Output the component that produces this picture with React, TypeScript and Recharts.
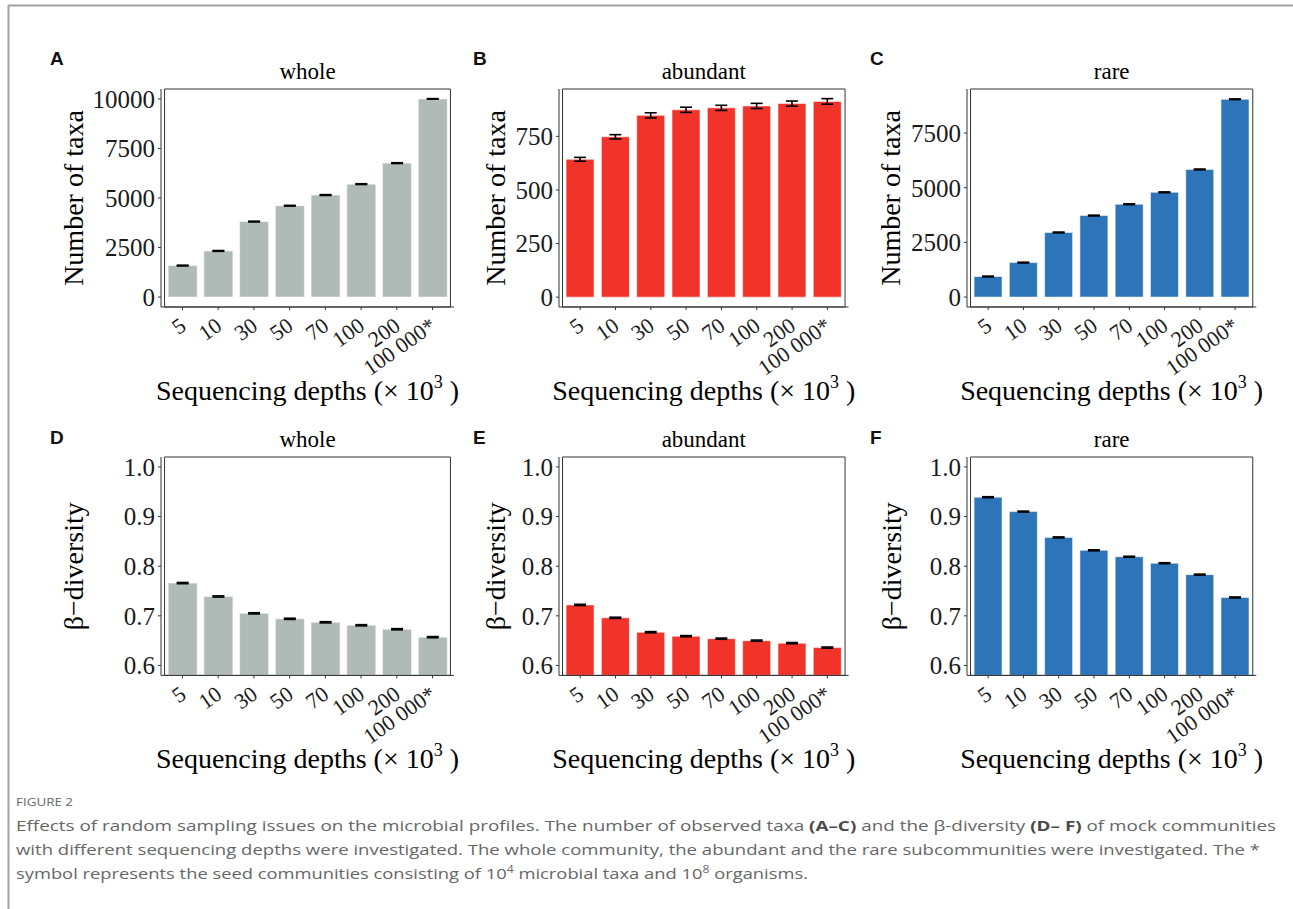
import React from 'react';
import { BarChart, Bar, XAxis, YAxis, ErrorBar, ReferenceArea } from 'recharts';

// ---------- data ----------
const depthLabels = ['5', '10', '30', '50', '70', '100', '200', '100 000*'];

const taxaWhole = [1590, 2330, 3810, 4610, 5150, 5700, 6760, 10000];
const taxaWholeErr = [20, 20, 20, 20, 20, 20, 20, 15];
const taxaAbundant = [643, 748, 848, 874, 883, 892, 903, 913];
const taxaAbundantErr = [9, 10, 12, 12, 12, 12, 12, 13];
const taxaRare = [941, 1577, 2955, 3727, 4245, 4791, 5836, 9045];
const taxaRareErr = [18, 18, 18, 18, 18, 18, 18, 15];

const betaWhole = [0.766, 0.739, 0.705, 0.694, 0.687, 0.681, 0.673, 0.657];
const betaWholeErr = [0.0012, 0.0012, 0.0012, 0.0012, 0.0012, 0.0012, 0.0012, 0.0012];
const betaAbundant = [0.722, 0.696, 0.667, 0.659, 0.654, 0.65, 0.645, 0.636];
const betaAbundantErr = [0.0012, 0.0012, 0.0012, 0.0012, 0.0012, 0.0012, 0.0012, 0.0012];
const betaRare = [0.939, 0.91, 0.858, 0.832, 0.819, 0.806, 0.783, 0.737];
const betaRareErr = [0.001, 0.001, 0.001, 0.001, 0.001, 0.001, 0.001, 0.001];

const taxaTicksWhole = [0, 2500, 5000, 7500, 10000];
const taxaTicksAbundant = [0, 250, 500, 750];
const taxaTicksRare = [0, 2500, 5000, 7500];
const betaTicks = [0.6, 0.7, 0.8, 0.9, 1.0];

// ---------- styles ----------
const SERIF = '"Liberation Serif", "Times New Roman", serif';
const SANS = '"Liberation Sans", Arial, sans-serif';
const CAPTION_FONT = '"Open Sans", "Noto Sans", sans-serif';
const GRAY = '#b0bab7';
const RED = '#f2332a';
const BLUE = '#2e74b8';

const ML = 120;
const MT = 60;
const XH = 120;
const MR = 12;

type Box = { left: number; top: number; width: number; height: number };
type PanelCfg = {
  letter: string;
  letterX: number;
  letterY: number;
  title: string;
  yLabel: string;
  yLabelX: number;
  values: number[];
  errors: number[];
  color: string;
  domain: [number, number];
  ticks: number[];
  fmt: (v: number) => string;
  box: Box;
};

const intFmt = (v: number) => String(v);
const decFmt = (v: number) => v.toFixed(1);

const panels: PanelCfg[] = [
  { letter: 'A', letterX: 50, letterY: 65, title: 'whole', yLabel: 'Number of taxa', yLabelX: 73, values: taxaWhole, errors: taxaWholeErr, color: GRAY, domain: [-500, 10500], ticks: taxaTicksWhole, fmt: intFmt, box: { left: 161, top: 88.7, width: 293, height: 218 } },
  { letter: 'B', letterX: 473, letterY: 65, title: 'abundant', yLabel: 'Number of taxa', yLabelX: 495, values: taxaAbundant, errors: taxaAbundantErr, color: RED, domain: [-46, 971], ticks: taxaTicksAbundant, fmt: intFmt, box: { left: 558.7, top: 88.7, width: 289.6, height: 218 } },
  { letter: 'C', letterX: 870, letterY: 65, title: 'rare', yLabel: 'Number of taxa', yLabelX: 890.7, values: taxaRare, errors: taxaRareErr, color: BLUE, domain: [-453, 9513], ticks: taxaTicksRare, fmt: intFmt, box: { left: 966.7, top: 88.7, width: 289.3, height: 218 } },
  { letter: 'D', letterX: 50, letterY: 444, title: 'whole', yLabel: 'β−diversity', yLabelX: 73, values: betaWhole, errors: betaWholeErr, color: GRAY, domain: [0.58, 1.02], ticks: betaTicks, fmt: decFmt, box: { left: 161, top: 457.3, width: 293, height: 218.4 } },
  { letter: 'E', letterX: 473, letterY: 444, title: 'abundant', yLabel: 'β−diversity', yLabelX: 495, values: betaAbundant, errors: betaAbundantErr, color: RED, domain: [0.58, 1.02], ticks: betaTicks, fmt: decFmt, box: { left: 558.7, top: 457.3, width: 289.6, height: 218.4 } },
  { letter: 'F', letterX: 870, letterY: 444, title: 'rare', yLabel: 'β−diversity', yLabelX: 890.7, values: betaRare, errors: betaRareErr, color: BLUE, domain: [0.58, 1.02], ticks: betaTicks, fmt: decFmt, box: { left: 966.7, top: 457.3, width: 289.3, height: 218.4 } },
];

const XTick = (props: any) => {
  const { x, y, payload } = props;
  return (
    <g transform={`translate(${x + 5},${y + 17})`}>
      <text textAnchor="end" transform="rotate(-35)" fontFamily={SERIF} fontSize={22} fill="#1a1a1a">
        {payload.value}
      </text>
    </g>
  );
};

function Panel({ cfg }: { cfg: PanelCfg }) {
  const { box } = cfg;
  const data = depthLabels.map((d, i) => ({ depth: d, value: cfg.values[i], err: cfg.errors[i] }));
  const W = ML + box.width + MR;
  const H = MT + box.height + XH;
  const pad = (0.1 * box.width) / 8.2;
  const cx = ML + box.width / 2;

  const titleLabel = () => (
    <text x={cx} y={MT - 10} textAnchor="middle" fontFamily={SERIF} fontSize={23} fill="#000">
      {cfg.title}
    </text>
  );
  const xTitle = () => (
    <text x={cx} y={MT + box.height + 93} textAnchor="middle" fontFamily={SERIF} fontSize={28} fill="#000">
      Sequencing depths (× 10
      <tspan dy={-12} fontSize={18}>3</tspan>
      <tspan dy={12}> )</tspan>
    </text>
  );
  const yTitle = () => {
    const lx = cfg.yLabelX - box.left + ML;
    const ly = MT + box.height / 2;
    return (
      <text
        transform={`translate(${lx},${ly}) rotate(-90)`}
        textAnchor="middle"
        dominantBaseline="central"
        fontFamily={SERIF}
        fontSize={28}
        fill="#000"
      >
        {cfg.yLabel}
      </text>
    );
  };

  return (
    <div style={{ position: 'absolute', left: box.left - ML, top: box.top - MT }}>
      <BarChart width={W} height={H} data={data} margin={{ top: MT, right: MR, bottom: 0, left: 0 }} barCategoryGap="10%">
        <XAxis
          xAxisId="b"
          dataKey="depth"
          height={XH}
          padding={{ left: pad, right: pad }}
          interval={0}
          tick={<XTick />}
          tickSize={3}
          tickMargin={2}
          axisLine={{ stroke: '#333', strokeWidth: 1 }}
          tickLine={{ stroke: '#333' }}
          label={xTitle}
        />
        <YAxis
          yAxisId="l"
          type="number"
          width={ML}
          domain={cfg.domain}
          ticks={cfg.ticks}
          allowDataOverflow
          interval={0}
          tickFormatter={cfg.fmt}
          tick={{ fontFamily: SERIF, fontSize: 25, fill: '#1a1a1a' }}
          tickSize={3}
          tickMargin={3}
          axisLine={{ stroke: '#333', strokeWidth: 1 }}
          tickLine={{ stroke: '#333' }}
          label={yTitle}
        />
        <Bar
          xAxisId="b"
          yAxisId="l"
          dataKey="value"
          fill={cfg.color}
          stroke="#ffffff"
          strokeOpacity={0.55}
          strokeWidth={1}
          isAnimationActive={false}
        >
          <ErrorBar dataKey="err" width={6} stroke="#000" strokeWidth={1.6} direction="y" />
        </Bar>
        <ReferenceArea
          xAxisId="b"
          yAxisId="l"
          y1={cfg.domain[0]}
          y2={cfg.domain[1]}
          ifOverflow="visible"
          fill="none"
          fillOpacity={0}
          stroke="#333"
          strokeWidth={1}
          label={titleLabel}
        />
      </BarChart>
    </div>
  );
}

export default function App() {
  return (
    <div style={{ position: 'absolute', left: 0, top: 0, width: 1293, height: 909, background: '#fff', overflow: 'hidden' }}>
      <svg width={1293} height={909} style={{ position: 'absolute', left: 0, top: 0 }}>
        <line x1={8} y1={5.5} x2={1293} y2={5.5} stroke="#a3a3a3" strokeWidth={2} />
        <line x1={8.5} y1={5} x2={8.5} y2={909} stroke="#a3a3a3" strokeWidth={2} />
        {panels.map((p) => (
          <text key={p.letter} x={p.letterX} y={p.letterY} fontFamily={SANS} fontWeight="bold" fontSize={19} fill="#111">
            {p.letter}
          </text>
        ))}
        <text x={16} y={806} fontFamily={CAPTION_FONT} fontSize={11} fill="#666" textLength={57} lengthAdjust="spacingAndGlyphs">
          FIGURE 2
        </text>
        <text x={16} y={831} fontFamily={CAPTION_FONT} fontSize={15} fill="#666" textLength={1260} lengthAdjust="spacingAndGlyphs">
          Effects of random sampling issues on the microbial profiles. The number of observed taxa{' '}
          <tspan fontWeight="bold" fill="#4a4a4a">(A–C)</tspan> and the β-diversity{' '}
          <tspan fontWeight="bold" fill="#4a4a4a">(D– F)</tspan> of mock communities
        </text>
        <text x={16} y={855} fontFamily={CAPTION_FONT} fontSize={15} fill="#666" textLength={1244} lengthAdjust="spacingAndGlyphs">
          with different sequencing depths were investigated. The whole community, the abundant and the rare subcommunities were investigated. The *
        </text>
        <text x={16} y={879} fontFamily={CAPTION_FONT} fontSize={15} fill="#666" textLength={792} lengthAdjust="spacingAndGlyphs">
          symbol represents the seed communities consisting of 10
          <tspan dy={-6} fontSize={10}>4</tspan>
          <tspan dy={6}> microbial taxa and 10</tspan>
          <tspan dy={-6} fontSize={10}>8</tspan>
          <tspan dy={6}> organisms.</tspan>
        </text>
      </svg>
      {panels.map((p) => (
        <Panel key={p.letter} cfg={p} />
      ))}
    </div>
  );
}
